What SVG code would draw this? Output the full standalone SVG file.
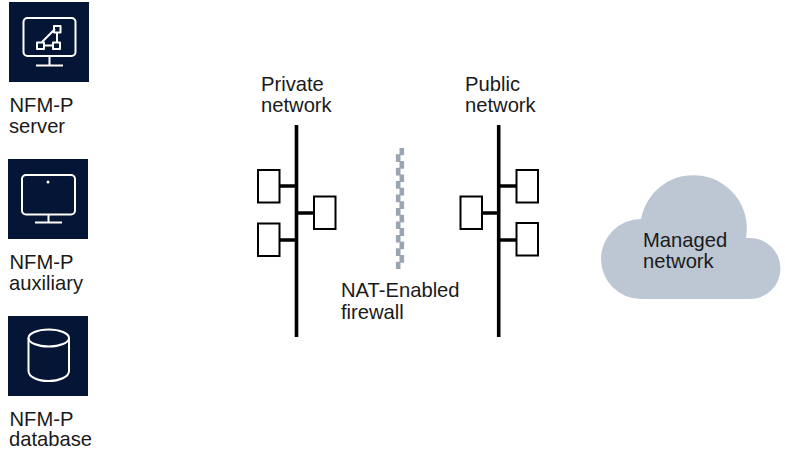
<svg xmlns="http://www.w3.org/2000/svg" width="785" height="453" viewBox="0 0 785 453">
<style>
text{font-family:"Liberation Sans",Arial,sans-serif;font-size:20.2px;fill:#1a1a1a}
.bg{fill:#051535}
.ic{fill:none;stroke:#fff;stroke-width:2;stroke-linejoin:round}
.box{fill:#fff;stroke:#000;stroke-width:2}
.bus{stroke:#000;stroke-width:3.6;fill:none}
.stub{stroke:#000;stroke-width:3.4;fill:none}
</style>
<g id="server">
<rect class="bg" x="9" y="2" width="80" height="80"/>
<rect class="ic" x="23.500" y="18" width="52" height="38" rx="4"/>
<path class="ic" d="M49.500 56V65M36 65.500H63"/>
<path class="ic" d="M44 45.500H53M42 42L55 29M57 33V42"/>
<rect class="ic" x="37" y="42.500" width="7" height="6.500"/>
<rect class="ic" x="53" y="42.500" width="7" height="6.500"/>
<rect class="ic" x="54" y="26" width="6.500" height="6.500"/>
<text x="9.500" y="112">NFM-P</text><text x="9" y="133">server</text>
</g>
<g id="auxiliary">
<rect class="bg" x="8" y="159" width="80" height="80"/>
<rect class="ic" x="22" y="175" width="53" height="39.500" rx="4"/>
<circle cx="48" cy="182" r="1.500" fill="#fff"/>
<path class="ic" d="M48.500 214.500V222M35 222.500H62"/>
<text x="9.500" y="269">NFM-P</text><text x="9" y="290">auxiliary</text>
</g>
<g id="database">
<rect class="bg" x="8" y="316" width="80" height="80"/>
<path class="ic" d="M28.500 338V371C28.500 377 38 381 48.500 381C59 381 69 377 69 371V338"/>
<ellipse class="ic" cx="48.750" cy="338" rx="20.250" ry="8.500"/>
<text x="9.500" y="426">NFM-P</text><text x="9" y="446">database</text>
</g>
<g id="connectors">
<path class="bus" d="M296.500 125V337"/>
<path class="stub" d="M280 186H296M296 213H313M280 240H296"/>
<path class="bus" d="M498.700 125V337"/>
<path class="stub" d="M482 213H498M498 186H516M498 240H516"/>
</g>
<g id="private-network">
<rect class="box" x="258" y="170" width="21.500" height="32.500"/>
<rect class="box" x="314" y="196.500" width="21.500" height="32.500"/>
<rect class="box" x="258" y="223.500" width="21.500" height="32.500"/>
<text x="261" y="91">Private</text><text x="261" y="112">network</text>
</g>
<g id="public-network">
<rect class="box" x="460.500" y="196.500" width="21.500" height="32.500"/>
<rect class="box" x="516.500" y="170" width="21.500" height="32.500"/>
<rect class="box" x="516.500" y="223" width="21.500" height="32.500"/>
<text x="465" y="91">Public</text><text x="465" y="112">network</text>
</g>
<g id="firewall">
<path fill="none" stroke="#9aa5b1" stroke-width="4.600" d="M401.800 148V155.200M398.200 154.200V161.900M401.800 160.900V168.700M398.200 167.700V175.400M401.800 174.400V182.100M398.200 181.100V188.800M401.800 187.800V195.500M398.200 194.500V202.300M401.800 201.300V209M398.200 208V215.700M401.800 214.700V222.400M398.200 221.400V229.100M401.800 228.100V235.900M398.200 234.900V242.600M401.800 241.600V249.300M398.200 248.300V256M401.800 255V262.700M398.200 261.700V269"/>
<text x="341" y="297">NAT-Enabled</text><text x="341" y="319">firewall</text>
</g>
<g id="managed-network">
<path fill="#bcc7d3" d="M641 219A53 53 0 0 1 746 238H750A30.500 30.500 0 0 1 750 299H641A40 40 0 0 1 641 219Z"/>
<text x="643" y="247">Managed</text><text x="643" y="268">network</text>
</g>
</svg>
